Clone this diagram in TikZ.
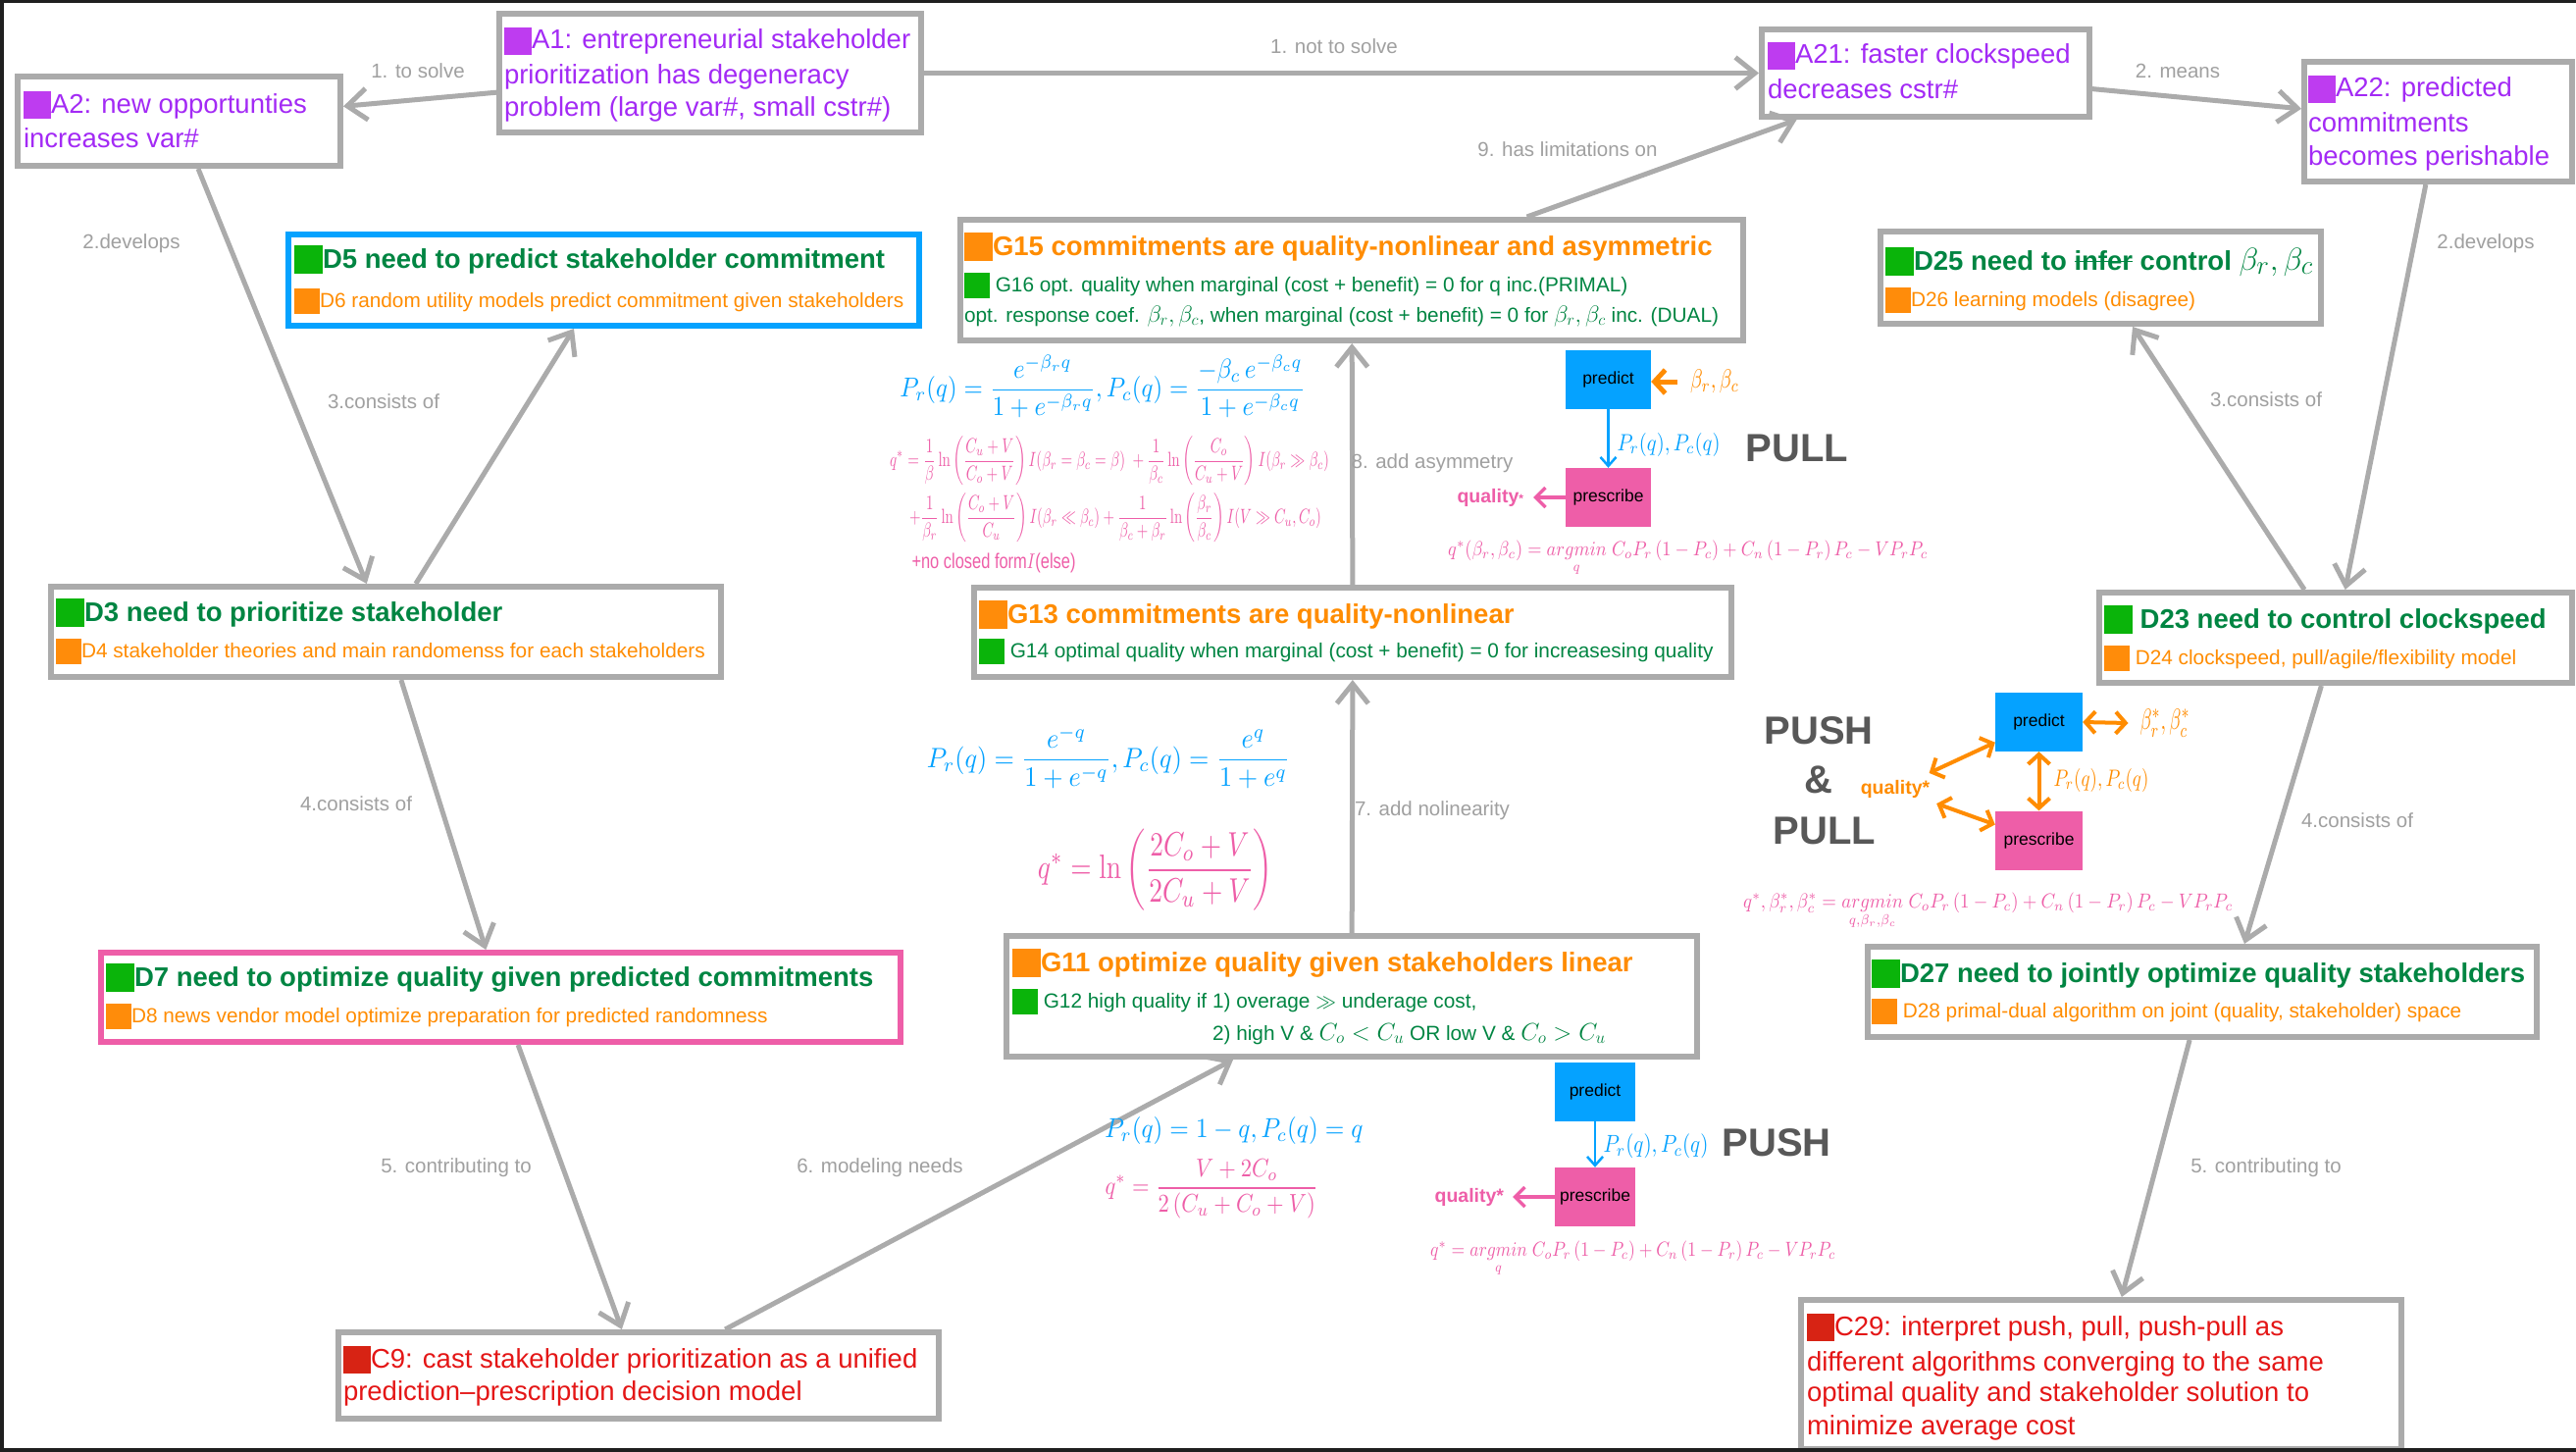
\documentclass[tikz,border=0pt]{standalone}
\usepackage{amsmath}
\usepackage[no-math]{fontspec}
\setmainfont{Liberation Sans}
\usepackage{graphicx}
\usetikzlibrary{arrows.meta}
\definecolor{cpur}{RGB}{163,42,245}
\definecolor{cgrn}{RGB}{0,133,66}
\definecolor{corg}{RGB}{255,140,0}
\definecolor{cred}{RGB}{228,22,22}
\definecolor{cgry}{RGB}{171,171,171}
\definecolor{clab}{RGB}{160,160,160}
\definecolor{cblu}{RGB}{5,162,255}
\definecolor{cpnk}{RGB}{238,94,168}
\definecolor{cdrk}{RGB}{88,88,88}
\definecolor{ipur}{RGB}{190,60,240}
\definecolor{igrn}{RGB}{10,180,10}
\definecolor{iorg}{RGB}{255,140,10}
\definecolor{ired}{RGB}{215,35,20}
\newcommand{\ftA}{\fontsize{27.5}{33}\selectfont}
\newcommand{\ftT}{\fontsize{27.5}{33}\selectfont\bfseries}
\newcommand{\ftS}{\fontsize{20.8}{25}\selectfont}
\newcommand{\ftL}{\fontsize{20.5}{24}\selectfont}
\newcommand{\ftBig}{\fontsize{40}{44}\selectfont\bfseries}
\newcommand{\ftBox}{\fontsize{17.5}{20}\selectfont}
\newcommand{\ftQ}{\fontsize{19.5}{22}\selectfont\bfseries}
\newcommand{\icn}[2]{{\color{#1}\rule[\dimexpr 0.3em-#2/2\relax]{#2}{#2}}}
\newcommand{\mystrike}[1]{\begingroup\setbox0\hbox{#1}\rlap{\rule[0.28em]{\wd0}{1.8pt}}\box0\endgroup}
\tikzset{
  box/.style={draw=cgry, line width=6pt, fill=white, rectangle, inner sep=0pt, anchor=north west},
  txt/.style={anchor=base west, inner sep=0pt, outer sep=0pt},
  conn/.style={draw=cgry, line width=5pt, -{Straight Barb[length=20pt,width=32pt]}},
  elab/.style={text=clab, font=\ftL, inner sep=0pt},
  pbox/.style={fill=cblu, inner sep=0pt, font=\ftBox, text=black},
  rbox/.style={fill=cpnk, inner sep=0pt, font=\ftBox, text=black},
  bigw/.style={text=cdrk, font=\ftBig, inner sep=0pt},
  mth/.style={inner sep=0pt},
  bluar/.style={draw=cblu, line width=2.5pt, -{Straight Barb[length=9pt,width=16pt]}},
  pnkar/.style={draw=cpnk, line width=3.5pt, -{Straight Barb[length=10pt,width=20pt]}},
  orgar/.style={draw=corg, line width=5pt, -{Straight Barb[length=11pt,width=24pt]}},
  orgdbl/.style={draw=corg, line width=4pt, {Straight Barb[length=10pt,width=22pt]}-{Straight Barb[length=10pt,width=22pt]}},
}
\begin{document}
\begin{tikzpicture}[x=1pt,y=-1pt]
\fill[white] (0,0) rectangle (2626,1480);
\path[use as bounding box] (0,0) rectangle (2626,1480);

% ---------- boxes ----------
\node[box, minimum width=329pt, minimum height=91pt] (A2) at (15,75) {};
\node[box, minimum width=430pt, minimum height=121pt] (A1) at (506,11) {};
\node[box, minimum width=334pt, minimum height=89pt] (A21) at (1793,27) {};
\node[box, minimum width=273pt, minimum height=122pt] (A22) at (2346,60) {};
\node[box, draw=cblu, minimum width=643pt, minimum height=93pt] (D5) at (291,236) {};
\node[box, minimum width=798pt, minimum height=123pt] (G15) at (976,221) {};
\node[box, minimum width=449pt, minimum height=94pt] (D25) at (1914,233) {};
\node[box, minimum width=683pt, minimum height=92pt] (D3) at (49,595) {};
\node[box, minimum width=772pt, minimum height=91pt] (G13) at (990,596) {};
\node[box, minimum width=482pt, minimum height=92pt] (D23) at (2137,601) {};
\node[box, draw=cpnk, minimum width=815pt, minimum height=91pt] (D7) at (100,968) {};
\node[box, minimum width=704pt, minimum height=123pt] (G11) at (1023,951) {};
\node[box, minimum width=682pt, minimum height=92pt] (D27) at (1901,962) {};
\node[box, minimum width=612pt, minimum height=88pt] (C9) at (342,1355) {};
\node[box, minimum width=612pt, minimum height=152pt] (C29) at (1833,1322) {};

% ---------- box texts ----------
\node[txt, text=cpur, font=\ftA] (A2a) at (24,115) {\icn{ipur}{28pt}A2: new opportunties};
\node[txt, text=cpur, font=\ftA] (A2b) at (24,150) {increases var\#};
\node[txt, text=cpur, font=\ftA] (A1a) at (514,50) {\icn{ipur}{28pt}A1: entrepreneurial stakeholder};
\node[txt, text=cpur, font=\ftA] (A1b) at (514,85) {prioritization has degeneracy};
\node[txt, text=cpur, font=\ftA] (A1c) at (514,118) {problem (large var\#, small cstr\#)};
\node[txt, text=cpur, font=\ftA] (A21a) at (1802,65) {\icn{ipur}{28pt}A21: faster clockspeed};
\node[txt, text=cpur, font=\ftA] (A21b) at (1802,100) {decreases cstr\#};
\node[txt, text=cpur, font=\ftA] (A22a) at (2353,99) {\icn{ipur}{28pt}A22: predicted};
\node[txt, text=cpur, font=\ftA] (A22b) at (2353,134) {commitments};
\node[txt, text=cpur, font=\ftA] (A22c) at (2353,168) {becomes perishable};

\node[txt, text=cgrn, font=\ftT] (D5a) at (300,273) {\icn{igrn}{29pt}D5 need to predict stakeholder commitment};
\node[txt, text=corg, font=\ftS] (D5b) at (300,313) {\icn{iorg}{26pt}D6 random utility models predict commitment given stakeholders};

\node[txt, text=corg, font=\ftT] (G15a) at (983,260) {\icn{iorg}{29pt}G15 commitments are quality-nonlinear and asymmetric};
\node[txt, text=cgrn, font=\ftS] (G15b) at (983,297) {\icn{igrn}{26pt} G16 opt. quality when marginal (cost + benefit) = 0 for q inc.(PRIMAL)};
\node[txt, text=cgrn, font=\ftS] (G15c) at (983,328) {opt. response coef. \scalebox{1.15}{$\beta_r, \beta_c$}, when marginal (cost + benefit) = 0 for \scalebox{1.15}{$\beta_r, \beta_c$} inc. (DUAL)};

\node[txt, text=cgrn, font=\ftT] (D25a) at (1922,275) {\icn{igrn}{29pt}D25 need to \mystrike{infer} control {\mdseries\scalebox{1.3}{$\beta_r, \beta_c$}}};
\node[txt, text=corg, font=\ftS] (D25b) at (1922,312) {\icn{iorg}{26pt}D26 learning models (disagree)};

\node[txt, text=cgrn, font=\ftT] (D3a) at (57,633) {\icn{igrn}{29pt}D3 need to prioritize stakeholder};
\node[txt, text=corg, font=\ftS] (D3b) at (57,670) {\icn{iorg}{26pt}D4 stakeholder theories and main randomenss for each stakeholders};

\node[txt, text=corg, font=\ftT] (G13a) at (998,635) {\icn{iorg}{29pt}G13 commitments are quality-nonlinear};
\node[txt, text=cgrn, font=\ftS] (G13b) at (998,670) {\icn{igrn}{26pt} G14 optimal quality when marginal (cost + benefit) = 0 for increasesing quality};

\node[txt, text=cgrn, font=\ftT] (D23a) at (2145,640) {\icn{igrn}{29pt} D23 need to control clockspeed};
\node[txt, text=corg, font=\ftS] (D23b) at (2145,677) {\icn{iorg}{26pt} D24 clockspeed, pull/agile/flexibility model};

\node[txt, text=cgrn, font=\ftT] (D7a) at (108,1005) {\icn{igrn}{29pt}D7 need to optimize quality given predicted commitments};
\node[txt, text=corg, font=\ftS] (D7b) at (108,1042) {\icn{iorg}{26pt}D8 news vendor model optimize preparation for predicted randomness};

\node[txt, text=corg, font=\ftT] (G11a) at (1032,990) {\icn{iorg}{29pt}G11 optimize quality given stakeholders linear};
\node[txt, text=cgrn, font=\ftS] (G11b) at (1032,1027) {\icn{igrn}{26pt} G12 high quality if 1) overage $\gg$ underage cost,};
\node[txt, text=cgrn, font=\ftS] (G11c) at (1236,1060) {2) high V \& \scalebox{1.2}{$C_o < C_u$} OR low V \& \scalebox{1.2}{$C_o > C_u$}};

\node[txt, text=cgrn, font=\ftT] (D27a) at (1908,1001) {\icn{igrn}{29pt}D27 need to jointly optimize quality stakeholders};
\node[txt, text=corg, font=\ftS] (D27b) at (1908,1037) {\icn{iorg}{26pt} D28 primal-dual algorithm on joint (quality, stakeholder) space};

\node[txt, text=cred, font=\ftA] (C9a) at (350,1394) {\icn{ired}{28pt}C9: cast stakeholder prioritization as a unified};
\node[txt, text=cred, font=\ftA] (C9b) at (350,1427) {prediction–prescription decision model};

\node[txt, text=cred, font=\ftA] (C29a) at (1842,1361) {\icn{ired}{28pt}C29: interpret push, pull, push-pull as};
\node[txt, text=cred, font=\ftA] (C29b) at (1842,1397) {different algorithms converging to the same};
\node[txt, text=cred, font=\ftA] (C29c) at (1842,1428) {optimal quality and stakeholder solution to};
\node[txt, text=cred, font=\ftA] (C29d) at (1842,1462) {minimize average cost};

% ---------- connectors ----------
\draw[conn] (A1) -- (A2);
\draw[conn] (A1) -- (A21);
\draw[conn] (A21) -- (A22);
\draw[conn] (A2) -- (D3);
\draw[conn] (D3) -- (D5);
\draw[conn] (A22) -- (D23);
\draw[conn] (D23) -- (D25);
\draw[conn] (D3) -- (D7);
\draw[conn] (D23) -- ([xshift=43pt]D27.north);
\draw[conn] (D7) -- (C9);
\draw[conn] (D27) -- (C29);
\draw[conn] (C9) -- (G11);
\draw[conn] (G11) -- (G13);
\draw[conn] (G13) -- (G15);
\draw[conn] (G15) -- (A21);

% ---------- connector labels ----------
\node[elab] (l1) at (426,72) {1. to solve};
\node[elab] (l2) at (1360,47) {1. not to solve};
\node[elab] (l3) at (2220,72) {2. means};
\node[elab] (l4) at (134,248) {2.develops};
\node[elab] (l5) at (2534,248) {2.develops};
\node[elab] (l6) at (391,409) {3.consists of};
\node[elab] (l7) at (2310,407) {3.consists of};
\node[elab] (l8) at (363,819) {4.consists of};
\node[elab] (l9) at (2403,836) {4.consists of};
\node[elab] (l10) at (465,1190) {5. contributing to};
\node[elab] (l11) at (2310,1190) {5. contributing to};
\node[elab] (l12) at (897,1190) {6. modeling needs};
\node[elab] (l13) at (1460,826) {7. add nolinearity};
\node[elab] (l14) at (1460,472) {8. add asymmetry};
\node[elab] (l15) at (1598,152) {9. has limitations on};

% ---------- formulas (centre column) ----------
\node[mth, text=cblu] (M1) at (1124,394) {\resizebox*{413pt}{64pt}{$\displaystyle P_r(q)=\frac{e^{-\beta_r q}}{1+e^{-\beta_r q}},P_c(q)=\frac{-\beta_c\,e^{-\beta_c q}}{1+e^{-\beta_c q}}$}};
\node[mth, text=cpnk] (M2) at (1131,470) {\resizebox*{448pt}{50pt}{$\displaystyle q^*=\frac{1}{\beta}\ln\left(\frac{C_u+V}{C_o+V}\right)I(\beta_r=\beta_c=\beta)\;+\frac{1}{\beta_c}\ln\left(\frac{C_o}{C_u+V}\right)I(\beta_r\gg\beta_c)$}};
\node[mth, text=cpnk] (M3) at (1137,528) {\resizebox*{420pt}{50pt}{$\displaystyle +\frac{1}{\beta_r}\ln\left(\frac{C_o+V}{C_u}\right)I(\beta_r\ll\beta_c)+\frac{1}{\beta_c+\beta_r}\ln\left(\frac{\beta_r}{\beta_c}\right)I(V\gg C_u,C_o)$}};
\node[mth, text=cpnk] (M4) at (1013,574) {\resizebox*{167pt}{20pt}{+no closed form$I$(else)}};
\node[mth, text=cblu] (M5) at (1130,772) {\resizebox*{370pt}{64pt}{$\displaystyle P_r(q)=\frac{e^{-q}}{1+e^{-q}},P_c(q)=\frac{e^{q}}{1+e^{q}}$}};
\node[mth, text=cpnk] (M6) at (1178,887) {\resizebox*{240pt}{83pt}{$\displaystyle q^*=\ln\left(\frac{2C_o+V}{2C_u+V}\right)$}};
\node[mth, text=cblu] (M7) at (1258,1152) {\resizebox*{263pt}{28pt}{$P_r(q)=1-q,P_c(q)=q$}};
\node[mth, text=cpnk] (M8) at (1235,1212) {\resizebox*{217pt}{60pt}{$\displaystyle q^*=\frac{V+2C_o}{2\,(C_u+C_o+V)}$}};

% ---------- PULL ----------
\node[pbox, minimum width=87pt, minimum height=60pt] (P1) at (1639.5,387) {predict};
\node[rbox, minimum width=87pt, minimum height=60pt] (R1) at (1639.5,507) {prescribe};
\draw[bluar] (P1) -- (R1);
\node[mth, text=corg, outer sep=13pt] (B1) at (1748,389) {\resizebox*{50pt}{24pt}{$\beta_r,\beta_c$}};
\draw[orgar] (B1.west) -- (P1.east |- B1.west);
\node[mth, text=cblu] (L1) at (1701,453) {\resizebox*{105pt}{24pt}{$P_r(q),P_c(q)$}};
\node[bigw] (W1) at (1832,457) {PULL};
\node[mth, text=cpnk, font=\ftQ, anchor=east, outer sep=10pt] (Q1) at (1563,507) {quality{\fontsize{12}{12}\selectfont*}};
\draw[pnkar] (R1.west) -- (Q1.east);
\node[mth, text=cpnk, anchor=base west] (F1) at (1476,566) {\resizebox*{489pt}{37pt}{$q^*(\beta_r,\beta_c)=\underset{q}{argmin}\;C_oP_r\left(1-P_c\right)+C_n\left(1-P_r\right)P_c-VP_rP_c$}};

% ---------- PUSH & PULL ----------
\node[pbox, minimum width=89pt, minimum height=60pt] (P2) at (2078.5,736) {predict};
\node[rbox, minimum width=89pt, minimum height=60pt] (R2) at (2078.5,856.5) {prescribe};
\draw[orgdbl] (P2) -- (R2);
\node[mth, text=corg, outer sep=12pt] (B2) at (2207,737) {\resizebox*{51pt}{28pt}{$\beta_r^*,\beta_c^*$}};
\draw[orgdbl] (P2.east) -- (B2.west);
\node[mth, text=corg] (L2) at (2142,795) {\resizebox*{97pt}{24pt}{$P_r(q),P_c(q)$}};
\node[mth, text=corg, font=\ftQ, outer sep=7pt] (Q2) at (1932,804) {quality*};
\draw[orgdbl] (Q2) -- (P2);
\draw[orgdbl] (Q2) -- (R2);
\node[bigw] (W2) at (1854,745) {PUSH};
\node[bigw] (W3) at (1854,795) {\&};
\node[bigw] (W4) at (1860,847) {PULL};
\node[mth, text=cpnk, anchor=base west] (F2) at (1777,925) {\resizebox*{499pt}{38pt}{$q^*,\beta_r^*,\beta_c^*=\underset{q,\beta_r,\beta_c}{argmin}\;C_oP_r\left(1-P_c\right)+C_n\left(1-P_r\right)P_c-VP_rP_c$}};

% ---------- PUSH ----------
\node[pbox, minimum width=82pt, minimum height=60pt] (P3) at (1626,1113) {predict};
\node[rbox, minimum width=82pt, minimum height=60pt] (R3) at (1626,1220) {prescribe};
\draw[bluar] (P3) -- (R3);
\node[mth, text=cblu] (L3) at (1688,1168) {\resizebox*{107pt}{25pt}{$P_r(q),P_c(q)$}};
\node[bigw] (W5) at (1811,1165) {PUSH};
\node[mth, text=cpnk, font=\ftQ, anchor=east, outer sep=9pt] (Q3) at (1542,1220) {quality*};
\draw[pnkar] (R3.west) -- (Q3.east);
\node[mth, text=cpnk, anchor=base west] (F3) at (1458,1280) {\resizebox*{413pt}{37pt}{$q^*=\underset{q}{argmin}\;C_oP_r\left(1-P_c\right)+C_n\left(1-P_r\right)P_c-VP_rP_c$}};

% ---------- frame ----------
\fill[black!88] (0,0) rectangle (2626,3);
\fill[black!88] (0,0) rectangle (4,1480);
\fill[black!88] (0,1476) rectangle (2626,1480);
\end{tikzpicture}
\end{document}
